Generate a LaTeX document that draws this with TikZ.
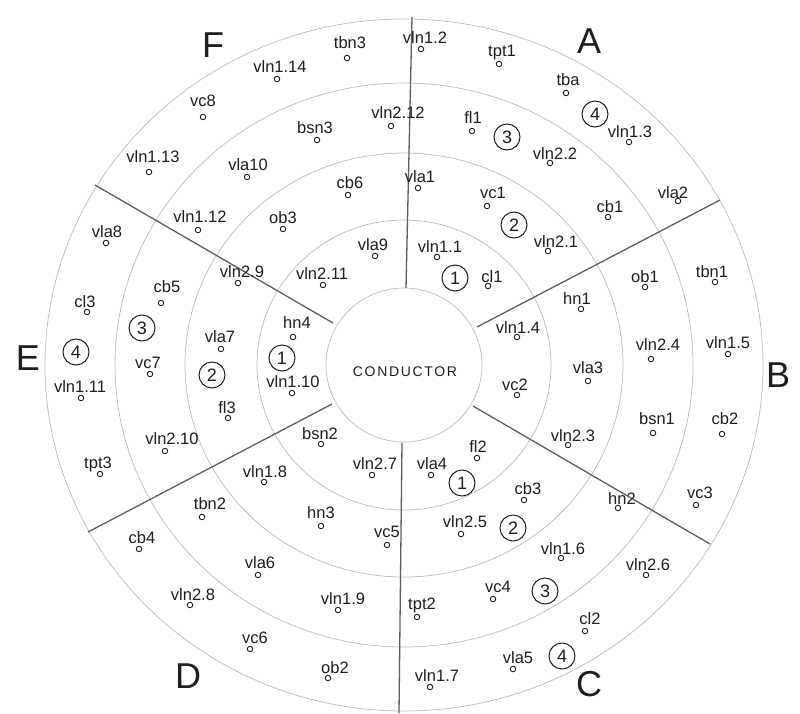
\documentclass[tikz,border=0pt]{standalone}
\usepackage{fontspec}
\setmainfont{Liberation Sans}
\definecolor{ringgrey}{HTML}{BBBBBB}
\definecolor{divgrey}{HTML}{5E5E5E}
\definecolor{ink}{HTML}{1E1E1E}
\tikzset{
  lbl/.style={inner sep=0pt, text=ink, font=\fontsize{16.5}{16.5}\selectfont},
  seat/.style={circle, draw=ink, line width=0.9pt, minimum size=5.5pt, inner sep=0pt},
  num/.style={circle, draw=ink, line width=1pt, minimum size=26pt, inner sep=0pt, text=ink, font=\fontsize{18}{18}\selectfont},
  sector/.style={inner sep=0pt, text=ink, font=\fontsize{36}{36}\selectfont},
  ring/.style={draw=ringgrey, line width=0.7pt},
  divider/.style={draw=divgrey, line width=1.3pt}
}
\newcommand\player[6]{%
  \node[lbl] (#1t) at (#3,#4) {#2};
  \node[seat] (#1) at (#5,#6) {};
}
\begin{document}
\begin{tikzpicture}[x=1pt, y={(0pt,-1pt)}]
\useasboundingbox (0,0) rectangle (800,713);
\fill[white] (0,0) rectangle (800,713);
% rings
\coordinate (c) at (404,365);
\draw[ring] (c) ellipse [x radius=78pt, y radius=77pt];
\draw[ring] (c) ellipse [x radius=147pt, y radius=145pt];
\draw[ring] (c) ellipse [x radius=219pt, y radius=212pt];
\draw[ring] (c) ellipse [x radius=289pt, y radius=282pt];
\draw[ring] (c) ellipse [x radius=359pt, y radius=346pt];
% dividers
\coordinate (d1a) at (406,288); \coordinate (d1b) at (412,17);
\coordinate (d2a) at (477,327); \coordinate (d2b) at (720,200);
\coordinate (d3a) at (473,406); \coordinate (d3b) at (710,544);
\coordinate (d4a) at (402,443); \coordinate (d4b) at (399,713);
\coordinate (d5a) at (332,404); \coordinate (d5b) at (88,532);
\coordinate (d6a) at (333,323); \coordinate (d6b) at (95,185);
\foreach \i in {1,...,6} {\draw[divider] (d\i a) -- (d\i b);}
% conductor
\node[inner sep=0pt, text=ink, font=\fontsize{14}{14}\selectfont\addfontfeatures{LetterSpace=12}] (cond) at (405,372) {CONDUCTOR};
% sector letters
\node[sector] (sA) at (589,41) {A};
\node[sector] (sB) at (778,375) {B};
\node[sector] (sC) at (589,684) {C};
\node[sector] (sD) at (188,676) {D};
\node[sector] (sE) at (28,358) {E};
\node[sector] (sF) at (213,45) {F};
% section A
\player{a1}{vln1.2}{425}{38}{421}{49}
\player{a2}{tpt1}{502}{53}{499}{64}
\player{a3}{tba}{568}{80}{566}{93}
\player{a4}{fl1}{473}{118}{472}{131}
\player{a5}{vln2.2}{555}{154}{550}{163}
\player{a6}{vla1}{420}{177}{418}{188}
\player{a7}{vc1}{493}{193}{487}{206}
\player{a8}{cb1}{610}{207}{608}{217}
\player{a9}{vla2}{673}{193}{678}{201}
\player{a10}{vln1.1}{440}{247}{437}{257}
\player{a11}{cl1}{492}{277}{488}{286}
\player{a12}{vln2.1}{556}{242}{548}{251}
\player{a13}{vln1.3}{630}{132}{629}{142}
\node[num] (nA4) at (595,114) {4};
\node[num] (nA3) at (507,137) {3};
\node[num] (nA2) at (514,225) {2};
\node[num] (nA1) at (455,278) {1};
% section B
\player{b1}{hn1}{577}{299}{581}{309}
\player{b2}{vln1.4}{518}{328}{517}{337}
\player{b3}{ob1}{645}{277}{645}{287}
\player{b4}{tbn1}{712}{272}{715}{282}
\player{b5}{vln2.4}{658}{345}{651}{359}
\player{b6}{vln1.5}{728}{343}{728}{354}
\player{b7}{vla3}{588}{368}{588}{381}
\player{b8}{vc2}{515}{385}{517}{395}
\player{b9}{bsn1}{657}{419}{653}{433}
\player{b10}{cb2}{725}{419}{722}{434}
\player{b11}{vln2.3}{573}{436}{568}{445}
\player{b12}{vc3}{700}{493}{696}{505}
\player{b13}{hn2}{622}{499}{618}{508}
% section C
\player{c1}{fl2}{478}{447}{477}{458}
\player{c2}{vla4}{432}{464}{431}{475}
\player{c3}{cb3}{528}{489}{524}{500}
\player{c4}{vln2.5}{465}{522}{461}{534}
\player{c5}{vln1.6}{563}{549}{561}{558}
\player{c6}{vln2.6}{648}{565}{646}{575}
\player{c7}{vc4}{498}{587}{493}{599}
\player{c8}{tpt2}{422}{605}{417}{617}
\player{c9}{cl2}{590}{619}{585}{631}
\player{c10}{vla5}{518}{658}{513}{669}
\player{c11}{vln1.7}{437}{676}{430}{687}
\node[num] (nC1) at (462,483) {1};
\node[num] (nC2) at (513,528) {2};
\node[num] (nC3) at (545,591) {3};
\node[num] (nC4) at (562,656) {4};
% section D
\player{d1}{vln2.7}{375}{464}{372}{475}
\player{d2}{bsn2}{320}{434}{321}{444}
\player{d3}{vln1.8}{265}{472}{264}{482}
\player{d4}{hn3}{321}{513}{321}{526}
\player{d5}{vc5}{387}{532}{387}{545}
\player{d6}{tbn2}{210}{504}{202}{517}
\player{d7}{cb4}{142}{538}{139}{549}
\player{d8}{vla6}{260}{563}{258}{575}
\player{d9}{vln2.8}{193}{595}{190}{605}
\player{d10}{vln1.9}{343}{599}{338}{610}
\player{d11}{vc6}{255}{638}{250}{649}
\player{d12}{ob2}{335}{668}{328}{678}
% section E
\player{e1}{hn4}{297}{323}{293}{337}
\player{e2}{vln1.10}{293}{382}{292}{393}
\player{e3}{vla7}{220}{337}{221}{349}
\player{e4}{fl3}{227}{408}{228}{418}
\player{e5}{vln2.10}{172}{439}{165}{451}
\player{e6}{cb5}{167}{287}{161}{303}
\player{e7}{vc7}{148}{363}{150}{374}
\player{e8}{vla8}{107}{232}{106}{243}
\player{e9}{cl3}{85}{302}{87}{312}
\player{e10}{vln1.11}{80}{387}{81}{398}
\player{e11}{tpt3}{98}{464}{100}{474}
\node[num] (nE1) at (282,358) {1};
\node[num] (nE2) at (212,375) {2};
\node[num] (nE3) at (142,328) {3};
\node[num] (nE4) at (76,352) {4};
% section F
\player{f1}{vln2.9}{242}{272}{238}{283}
\player{f2}{vln2.11}{322}{274}{323}{285}
\player{f3}{vla9}{373}{245}{375}{256}
\player{f4}{ob3}{283}{218}{283}{229}
\player{f5}{cb6}{350}{183}{348}{195}
\player{f6}{vln1.12}{200}{217}{198}{230}
\player{f7}{vla10}{248}{165}{247}{177}
\player{f8}{bsn3}{315}{128}{317}{140}
\player{f9}{vln2.12}{398}{113}{391}{126}
\player{f10}{vln1.13}{153}{157}{149}{172}
\player{f11}{vc8}{203}{101}{203}{117}
\player{f12}{vln1.14}{280}{67}{277}{79}
\player{f13}{tbn3}{350}{43}{347}{58}
\end{tikzpicture}
\end{document}
